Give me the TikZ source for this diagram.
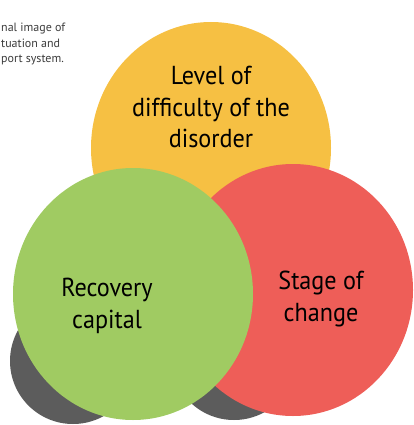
\documentclass[tikz,border=0pt]{standalone}
\usepackage{fontspec}
\setmainfont{PT Sans}
\newfontfamily\discfont[FakeStretch=0.93]{PT Sans}
\usepackage{tikz}
\usetikzlibrary{shapes.geometric,positioning}

\definecolor{discyellow}{HTML}{F6C043}
\definecolor{discred}{HTML}{EE5E58}
\definecolor{discgreen}{HTML}{A0CB62}
\definecolor{shadowgray}{HTML}{5C5C5C}
\definecolor{notegray}{HTML}{3C3C3C}

\begin{document}
\begin{tikzpicture}[x=1pt,y=-1pt,
	disc/.style={ellipse,minimum width=240pt,minimum height=252pt,inner sep=0pt},
	shadowdisc/.style={circle,fill=shadowgray,minimum size=126pt,inner sep=0pt},
	disctext/.style={align=center,text=black,font=\discfont\fontsize{26}{31.5}\selectfont},
	note/.style={align=left,text=notegray,font=\fontsize{12}{15.5}\selectfont,inner sep=0pt}]
\useasboundingbox	(0,0) rectangle (413,425);
\clip	(0,0) rectangle (413,425);

% shadows
\node	[shadowdisc]	(ys)	at (151,214)	{};
\node	[shadowdisc]	(rs)	at (234,357)	{};
\node	[shadowdisc]	(gs)	at (73,361)		{};

% discs
\node	[disc,fill=discyellow]	(yellow)	at (211,148)	{};
\node	[disc,fill=discred]		(red)		at (293,290)	{};
\node	[disc,fill=discgreen]	(green)		at (133,294)	{};

% texts
\node	[disctext]	(difficulty)	at (211,107)	{Level of\\difficulty of the\\disorder};
\node	[disctext]	(stage)			at (321,299)	{Stage of\\change};
\node	[disctext]	(recovery)		at (107,306)	{Recovery\\capital};
\node	[note,anchor=north west]	(legend)	at (1,23)	{nal image of\\tuation and\\port system.};
\end{tikzpicture}
\end{document}
